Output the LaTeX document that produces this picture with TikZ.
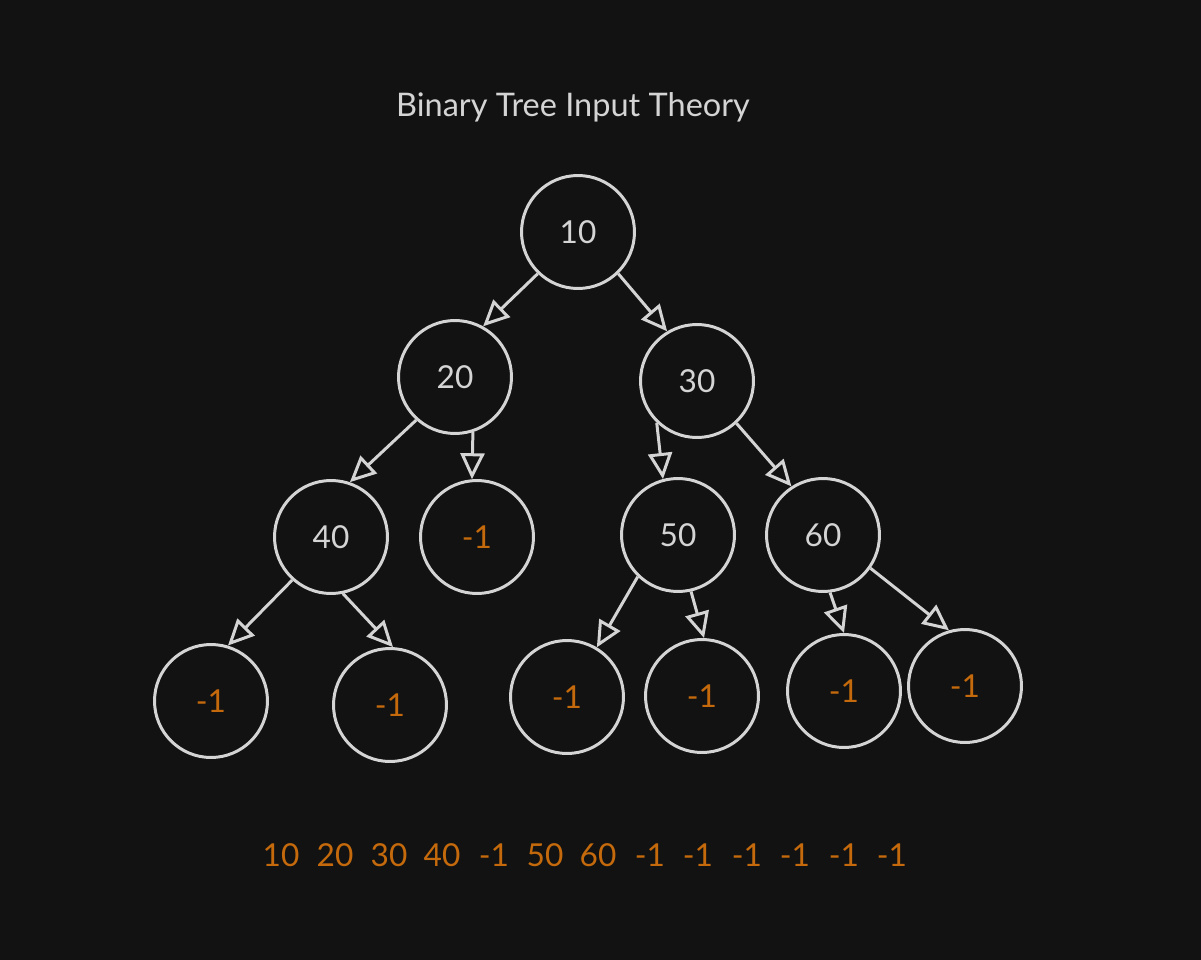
\documentclass[tikz,border=0pt]{standalone}
\usepackage{fontspec}
\setmainfont{Lato}
\usepackage{tikz}
\usetikzlibrary{arrows.meta}
\usepackage{xcolor}
\definecolor{bgdark}{HTML}{121212}
\definecolor{linegray}{HTML}{D4D4D4}
\definecolor{nullorange}{HTML}{C46A0C}

\begin{document}
\begin{tikzpicture}[%
    x=0.02cm,y=-0.02cm,
    -{Triangle[open,length=0.52cm,width=0.48cm]},line width=1.7pt,draw=linegray,
    tnode/.style={%
      circle,minimum size=2.26cm,inner sep=0pt,draw=linegray,line width=1.7pt,
      text=linegray,font=\fontsize{18}{21}\selectfont},
    nullnode/.style={tnode,text=nullorange},
    seqitem/.style={text=nullorange,font=\fontsize{18}{21}\selectfont}
  ]
    \fill[bgdark] (0,0) rectangle (1201,960);
    \useasboundingbox (0,0) rectangle (1201,960);

    \node[text=linegray,font=\fontsize{18.5}{22}\selectfont] (title) at (573,107) {Binary Tree Input Theory};

    \node[tnode]    (n10)  at (578,232) {10};
    \node[tnode]    (n20)  at (455,377) {20};
    \node[tnode]    (n30)  at (697,381) {30};
    \node[tnode]    (n40)  at (331,537) {40};
    \node[nullnode] (e20)  at (477,537) {-1};
    \node[tnode]    (n50)  at (678,535) {50};
    \node[tnode]    (n60)  at (823,535) {60};
    \node[nullnode] (e40l) at (211,701) {-1};
    \node[nullnode] (e40r) at (390,705) {-1};
    \node[nullnode] (e50l) at (567,697) {-1};
    \node[nullnode] (e50r) at (702,696) {-1};
    \node[nullnode] (e60l) at (844,691) {-1};
    \node[nullnode] (e60r) at (965,686) {-1};

    \path (n10.-134) edge (n20.61)
          (n10.-46)  edge (n30.121)
          (n20.-132) edge (n40.71)
          (n20.-72)  edge (e20.95)
          (n30.-134) edge (n50.105)
          (n30.-47)  edge (n60.123)
          (n40.-132) edge (e40l.73)
          (n40.-78)  edge (e40r.87)
          (n50.-134) edge (e50l.59)
          (n50.-77)  edge (e50r.88)
          (n60.-83)  edge (e60l.90)
          (n60.-35)  edge (e60r.106)
          ;

    % level order input
    \foreach \v/\x [count=\i] in {10/281,20/335,30/389,40/442,-1/494,50/545,60/598,-1/650,-1/698,-1/747,-1/795,-1/844,-1/892}
      \node[seqitem] (s\i) at (\x,855) {\v};
  \end{tikzpicture}
\end{document}
